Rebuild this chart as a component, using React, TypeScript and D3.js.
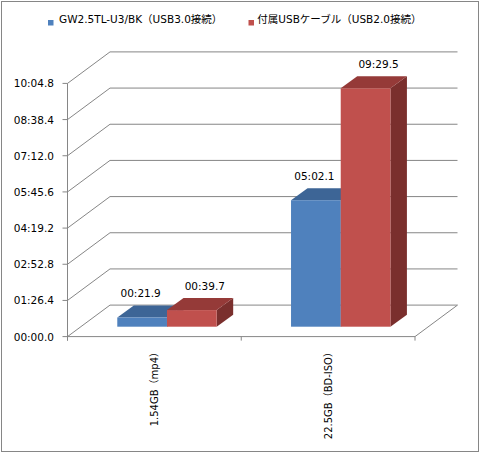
import React from "react";
import * as d3 from "d3";

const categories = ["1.54GB（mp4）", "22.5GB（BD-ISO）"];
const seriesNames = ["GW2.5TL-U3/BK（USB3.0接続）", "付属USBケーブル（USB2.0接続）"];
// seconds
const usb3Values = [21.9, 302.1];
const usb2Values = [39.7, 569.5];
const tickValues = [0, 86.4, 172.8, 259.2, 345.6, 432.0, 518.4, 604.8];

const seriesValues = [usb3Values, usb2Values];
const colors = [
  { front: "#4f81bd", top: "#3d6596", side: "#33557f" },
  { front: "#c0504d", top: "#953a38", side: "#7a2f2d" },
];

const W = 480;
const H = 453;
const FONT = "'DejaVu Sans', 'Noto Sans CJK JP', sans-serif";
const GRID = "#868686";

function fmt(v: number) {
  const m = Math.floor(v / 60 + 1e-9);
  const s = v - m * 60;
  const mm = String(m).padStart(2, "0");
  const ss = s.toFixed(1).padStart(4, "0");
  return `${mm}:${ss}`;
}

export default function App() {
  const x0 = 67.5;
  const x1 = 415;
  const depth = { dx: 42.5, dy: -31.5 };
  const y = d3.scaleLinear().domain([0, 604.8]).range([336.6, 83.4]);
  const xCat = d3.scaleBand<string>().domain(categories).range([x0, x1]).padding(0);
  const bw = xCat.bandwidth();
  const xSer = d3
    .scaleBand<number>()
    .domain([0, 1])
    .range([bw * 0.214, bw * 0.786])
    .padding(0);
  const barW = xSer.bandwidth();
  const barFront = { dx: 12.6, dy: -9.9 };
  const barDepth = { dx: 16.5, dy: -12 };
  const labelDx = [-1.5, 13];

  const y0 = y(0);

  const bars: React.ReactNode[] = [];
  const labels: React.ReactNode[] = [];
  categories.forEach((c, ci) => {
    seriesValues.forEach((vals, si) => {
      const v = vals[ci];
      const xl = (xCat(c) as number) + (xSer(si) as number) + barFront.dx;
      const xr = xl + barW;
      const yb = y0 + barFront.dy;
      const yt = y(v) + barFront.dy;
      const col = colors[si];
      const ddx = barDepth.dx;
      const ddy = barDepth.dy;
      bars.push(
        <g key={`b${ci}-${si}`}>
          <polygon
            points={`${xr},${yb} ${xr + ddx},${yb + ddy} ${xr + ddx},${yt + ddy} ${xr},${yt}`}
            fill={col.side}
          />
          <polygon
            points={`${xl},${yt} ${xr},${yt} ${xr + ddx},${yt + ddy} ${xl + ddx},${yt + ddy}`}
            fill={col.top}
          />
          <rect x={xl} y={yt} width={barW} height={yb - yt} fill={col.front} />
        </g>
      );
      labels.push(
        <text
          key={`l${ci}-${si}`}
          x={(xl + xr) / 2 + labelDx[si]}
          y={yt - 20.5}
          textAnchor="middle"
          fontSize={10.5}
          fontFamily={FONT}
          fill="#000"
        >
          {fmt(v)}
        </text>
      );
    });
  });

  return (
    <svg width={W} height={H} style={{ position: "absolute", left: 0, top: 0 }}>
      <rect x={1.5} y={1.5} width={477} height={450} fill="#fff" stroke={GRID} strokeWidth={1} />
      {/* legend */}
      <g fontFamily={FONT} fontSize={10.5} fill="#000">
        <rect x={48} y={20} width={5.5} height={5.5} fill={colors[0].front} />
        <text x={59} y={22.7}>{seriesNames[0]}</text>
        <rect x={248.5} y={20} width={5.5} height={5.5} fill={colors[1].front} />
        <text x={257.3} y={22.7}>{seriesNames[1]}</text>
      </g>
      {/* walls gridlines */}
      <g stroke={GRID} strokeWidth={1} fill="none">
        {tickValues.map((t) => {
          const yy = y(t);
          return (
            <g key={`g${t}`}>
              <line x1={x0} y1={yy} x2={x0 + depth.dx} y2={yy + depth.dy} />
              <line x1={x0 + depth.dx} y1={yy + depth.dy} x2={x1 + depth.dx} y2={yy + depth.dy} />
              <line x1={x0 - 5} y1={yy} x2={x0} y2={yy} />
            </g>
          );
        })}
        <line x1={x0} y1={y(604.8)} x2={x0} y2={y0 + 4} />
        <line x1={x0} y1={y0} x2={x1} y2={y0} />
        <line x1={x1} y1={y0} x2={x1 + depth.dx} y2={y0 + depth.dy} />
        {[...categories.map((c) => xCat(c) as number), x1].map((xx, i) => (
          <line key={`xt${i}`} x1={xx} y1={y0} x2={xx} y2={y0 + 4} />
        ))}
      </g>
      {/* y tick labels */}
      <g fontFamily={FONT} fontSize={10.5} fill="#000" textAnchor="end">
        {tickValues.map((t) => (
          <text key={`yl${t}`} x={54} y={y(t) + 4}>
            {fmt(t)}
          </text>
        ))}
      </g>
      {bars}
      {labels}
      {/* x labels */}
      <g fontFamily={FONT} fontSize={10} fill="#000">
        {categories.map((c) => {
          const cx = (xCat(c) as number) + bw / 2;
          return (
            <text
              key={`xl${c}`}
              transform={`translate(${cx + 3.5},347) rotate(-90)`}
              textAnchor="end"
            >
              {c}
            </text>
          );
        })}
      </g>
    </svg>
  );
}
